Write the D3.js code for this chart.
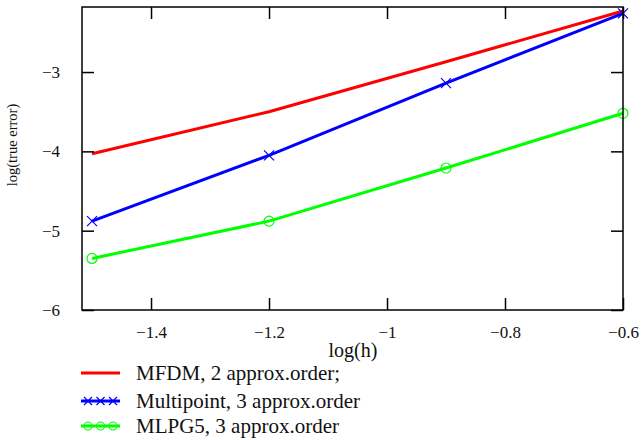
<!DOCTYPE html>
<html>
<head>
<meta charset="utf-8">
<script src="https://cdnjs.cloudflare.com/ajax/libs/d3/7.8.5/d3.min.js"></script>
<style>
  body { margin: 0; background: #fff; }
  text { font-family: "Liberation Serif", "Times New Roman", serif; fill: #111; }
</style>
</head>
<body>
<div id="main"></div>
<script>
// x values (log(h)) shared by all series
var logH = [-1.5, -1.2, -0.9, -0.6];
// series values, log(true error)
var mfdm = [-4.03, -3.50, -2.87, -2.23];
var multipoint = [-4.88, -4.05, -3.14, -2.26];
var mlpg5 = [-5.35, -4.88, -4.21, -3.52];

var xTicks = [-1.4, -1.2, -1.0, -0.8, -0.6];
var yTicks = [-6, -5, -4, -3];
var legendLabels = ["MFDM, 2 approx.order;", "Multipoint, 3 approx.order", "MLPG5, 3 approx.order"];

var ctx = {
    w: 641,
    h: 440,
    left: 82, right: 623, top: 7, bottom: 310
};

var fmt = function(v){
    var s = d3.format("")(+v.toFixed(1));
    return s.replace("-", "\u2212");
};

var createViz = function(){
    var svg = d3.select("#main").append("svg")
        .attr("width", ctx.w).attr("height", ctx.h);

    ctx.xScale = d3.scaleLinear().domain([-1.517, -0.6]).range([ctx.left, ctx.right]);
    ctx.yScale = d3.scaleLinear().domain([-6, -2.18]).range([ctx.bottom, ctx.top]);

    var series = [
        {name: legendLabels[0], vals: mfdm, color: "#ff0000", marker: "none"},
        {name: legendLabels[1], vals: multipoint, color: "#0000ff", marker: "x"},
        {name: legendLabels[2], vals: mlpg5, color: "#00ff00", marker: "o"}
    ];

    var plotG = svg.append("g");
    var line = d3.line()
        .x(function(d){ return ctx.xScale(d[0]); })
        .y(function(d){ return ctx.yScale(d[1]); });

    series.forEach(function(s){
        var pts = logH.map(function(x, i){ return [x, s.vals[i]]; });
        plotG.append("path")
            .attr("d", line(pts))
            .attr("fill", "none")
            .attr("stroke", s.color)
            .attr("stroke-width", 3);
        drawMarkers(plotG, pts.map(function(p){ return [ctx.xScale(p[0]), ctx.yScale(p[1])]; }), s, 5);
    });

    // frame and ticks (inward, on all four sides)
    var axG = svg.append("g");
    axG.append("rect")
        .attr("x", ctx.left).attr("y", ctx.top)
        .attr("width", ctx.right - ctx.left).attr("height", ctx.bottom - ctx.top)
        .attr("fill", "none").attr("stroke", "#000").attr("stroke-width", 1.5);

    var tk = 12;
    axG.append("g")
        .attr("transform", "translate(0," + ctx.bottom + ")")
        .call(d3.axisBottom(ctx.xScale).tickValues(xTicks).tickSizeInner(-tk).tickSizeOuter(0).tickPadding(tk + 4).tickFormat(fmt))
        .call(function(g){ g.select(".domain").remove(); })
        .call(styleAxis);
    axG.append("g")
        .attr("transform", "translate(0," + ctx.top + ")")
        .call(d3.axisTop(ctx.xScale).tickValues(xTicks).tickSizeInner(-tk).tickSizeOuter(0).tickFormat(""))
        .call(function(g){ g.select(".domain").remove(); })
        .call(styleAxis);
    axG.append("g")
        .attr("transform", "translate(" + ctx.left + ",0)")
        .call(d3.axisLeft(ctx.yScale).tickValues(yTicks).tickSizeInner(-tk).tickSizeOuter(0).tickPadding(tk + 10).tickFormat(fmt))
        .call(function(g){ g.select(".domain").remove(); })
        .call(styleAxis);
    axG.append("g")
        .attr("transform", "translate(" + ctx.right + ",0)")
        .call(d3.axisRight(ctx.yScale).tickValues(yTicks).tickSizeInner(-tk).tickSizeOuter(0).tickFormat(""))
        .call(function(g){ g.select(".domain").remove(); })
        .call(styleAxis);

    // axis titles
    svg.append("text")
        .attr("x", 353).attr("y", 357)
        .attr("text-anchor", "middle")
        .style("font-size", "20px")
        .text("log(h)");
    svg.append("text")
        .attr("transform", "translate(17,145) rotate(-90)")
        .attr("text-anchor", "middle")
        .style("font-size", "14.5px")
        .text("log(true error)");

    // legend
    var legY = [373, 401, 426];
    series.forEach(function(s, i){
        var g = svg.append("g");
        g.append("line")
            .attr("x1", 81).attr("x2", 120)
            .attr("y1", legY[i]).attr("y2", legY[i])
            .attr("stroke", s.color).attr("stroke-width", 3);
        drawMarkers(g, [[88, legY[i]], [100.5, legY[i]], [113, legY[i]]], s, 4);
        g.append("text")
            .attr("x", 136).attr("y", legY[i])
            .attr("dy", "0.33em")
            .style("font-size", "21px")
            .text(s.name);
    });
};

var styleAxis = function(g){
    g.selectAll(".tick line").attr("stroke", "#000").attr("stroke-width", 1.5);
    g.selectAll(".tick text")
        .style("font-family", "Liberation Serif, serif")
        .style("font-size", "17px")
        .attr("fill", "#111");
};

var drawMarkers = function(g, pts, s, r){
    if (s.marker === "x") {
        pts.forEach(function(p){
            g.append("path")
                .attr("d", "M" + (p[0] - r) + "," + (p[1] - r) + "L" + (p[0] + r) + "," + (p[1] + r) +
                           "M" + (p[0] - r) + "," + (p[1] + r) + "L" + (p[0] + r) + "," + (p[1] - r))
                .attr("stroke", s.color).attr("stroke-width", 1.2).attr("fill", "none");
        });
    } else if (s.marker === "o") {
        pts.forEach(function(p){
            g.append("circle")
                .attr("cx", p[0]).attr("cy", p[1]).attr("r", r)
                .attr("stroke", s.color).attr("stroke-width", 1.2).attr("fill", "none");
        });
    }
};

createViz();
</script>
</body>
</html>
